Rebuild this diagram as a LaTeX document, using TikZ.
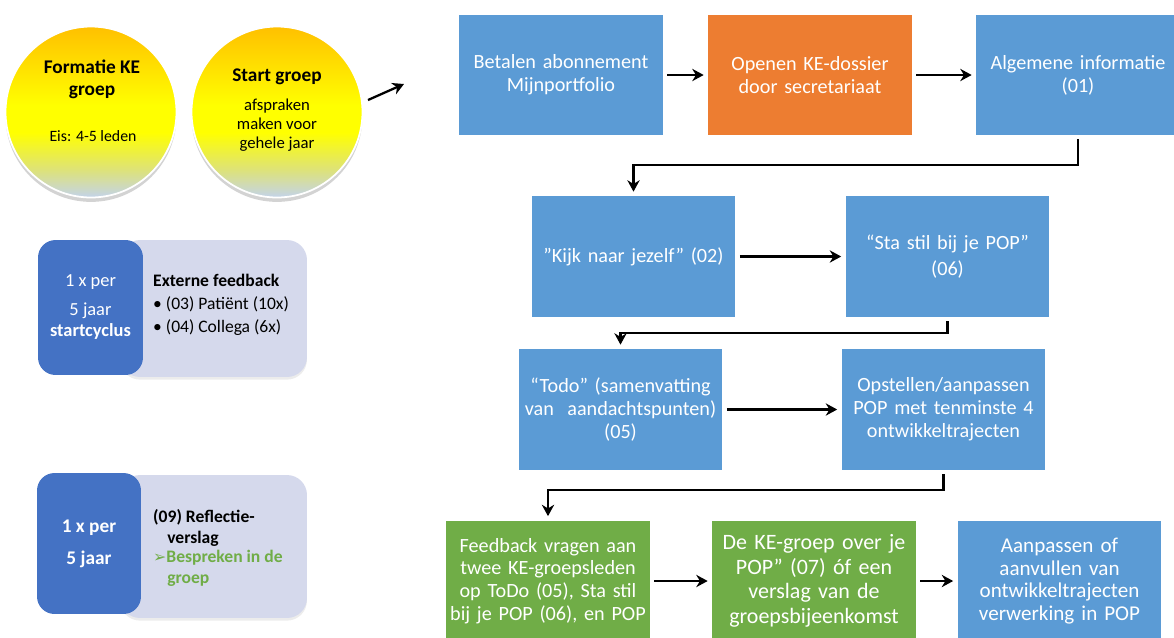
\documentclass[tikz,border=0pt]{standalone}
\usepackage{fontspec}
\setmainfont{Carlito}
\newfontfamily\symbfont{DejaVu Sans}
\usepackage{tikz}
\usetikzlibrary{arrows.meta,shadows}
\definecolor{blauw}{HTML}{5B9BD5}
\definecolor{oranje}{HTML}{ED7D31}
\definecolor{groen}{HTML}{70AD47}
\definecolor{donkerblauw}{HTML}{4472C4}
\definecolor{lila}{HTML}{D5D9EC}
\definecolor{goud}{HTML}{FFC000}
\definecolor{geel}{HTML}{FFFF00}
\definecolor{geelgrijs}{HTML}{DDE27A}
\definecolor{grijsblauw}{HTML}{C3D3EA}
\pgfdeclareverticalshading{bolkleur}{100bp}{color(0bp)=(grijsblauw); color(25bp)=(grijsblauw); color(33bp)=(geelgrijs); color(44bp)=(geel); color(52bp)=(geel); color(75bp)=(goud); color(100bp)=(goud)}
\tikzset{
    stap/.style={rectangle, fill=blauw, text=white, inner sep=0pt,
        minimum width=4.08cm, minimum height=2.4cm, text width=4cm, align=center,
        font=\fontsize{11.5}{13}\selectfont},
    pijl/.style={-{Stealth[length=6.5pt,width=7pt]}, line width=1.3pt,
        shorten >=0.08cm, shorten <=0.08cm},
    bol/.style={circle, draw=white, line width=1pt, minimum size=3.42cm,
        shading=bolkleur,
        drop shadow={shadow xshift=0pt, shadow yshift=-2.5pt, opacity=0.35}},
    donker/.style={rectangle, rounded corners=0.35cm, fill=donkerblauw,
        minimum width=2.1cm, inner sep=0pt},
    licht/.style={rectangle, rounded corners=0.4cm, fill=lila,
        minimum width=3.74cm, inner sep=0pt,
        drop shadow={shadow xshift=0pt, shadow yshift=-1.5pt, opacity=0.15}}
}

\begin{document}
\begin{tikzpicture}[x=0.02cm, y=-0.02cm]
                \useasboundingbox (0,0) rectangle (1174,637);
                \clip (0,0) rectangle (1174,637);

                \node[bol] (formatie) at (91,112) {};
                \node[align=center, font=\fontsize{11}{12.5}\selectfont\bfseries] (formatietekst) at (92,79) {Formatie KE\\groep};
                \node[font=\fontsize{9}{11}\selectfont] (eis) at (93,136) {Eis: 4-5 leden};
                \node[bol] (start) at (277,112) {};
                \node[font=\fontsize{11}{12.5}\selectfont\bfseries] (starttekst) at (277,77) {Start groep};
                \node[align=center, font=\fontsize{9.5}{10.8}\selectfont] (afspraken) at (277,125) {afspraken\\maken voor\\gehele jaar};
                \coordinate (pijlbegin) at (368,100);
                \coordinate (pijleind) at (404,84);
                \draw[pijl, shorten <=0pt, shorten >=0pt] (pijlbegin) -- (pijleind);

                \node[licht, minimum height=2.74cm] (feedbackvak) at (213.5,308.5) {};
                \node[donker, minimum height=2.7cm] (cyclus) at (90.5,307.5) {};
                \node[align=center, text=white, font=\fontsize{10.5}{11.5}\selectfont] (cyclustekst) at (90.5,307) {1 x per\\[5pt]5 jaar\\\textbf{startcyclus}};
                \node[anchor=west, align=left, font=\fontsize{10}{13}\selectfont] (extern) at (147,305) {\textbf{Externe feedback}\\\textbullet\ (03) Patiënt (10x)\\\textbullet\ (04) Collega (6x)};

                \node[licht, minimum height=2.86cm] (reflectievak) at (213.5,546.5) {};
                \node[donker, minimum height=2.82cm, minimum width=2.08cm] (vijfjaar) at (89,543.5) {};
                \node[align=center, text=white, font=\fontsize{11}{18}\selectfont\bfseries] (vijfjaartekst) at (89,544) {1 x per\\5 jaar};
                \node[anchor=west, align=left, font=\fontsize{10}{12}\selectfont\bfseries] (reflectie) at (147,548) {(09) Reflectie-\\\hspace*{8pt}verslag\\[-1pt]\textcolor{groen}{{\symbfont\fontsize{9}{10}\selectfont ➢}Bespreken in de}\\\hspace*{8pt}\textcolor{groen}{groep}};

                \node[stap] (betalen) at (561,75) {Betalen abonnement\\Mijnportfolio};
                \node[stap, fill=oranje] (openen) at (810,75) {Openen KE-dossier\\door secretariaat};
                \node[stap] (algemeen) at (1078,75) {Algemene informatie\\(01)};
                \node[stap, minimum height=2.42cm] (kijk) at (633.5,256.5) {”Kijk naar jezelf” (02)};
                \node[stap, minimum height=2.42cm, font=\fontsize{11.5}{14.5}\selectfont] (stastil) at (947.5,256.5) {“Sta stil bij je POP”\\(06)};
                \node[stap, minimum height=2.42cm] (todo) at (620.5,409.5) {“Todo” (samenvatting\\van\ \ aandachtspunten)\\(05)};
                \node[stap, minimum height=2.42cm] (opstellen) at (943.5,409.5) {Opstellen/aanpassen\\POP met tenminste 4\\ontwikkeltrajecten};
                \node[stap, fill=groen, minimum height=2.42cm] (feedback) at (548,581) {Feedback vragen aan\\twee KE-groepsleden\\op ToDo (05), Sta stil\\bij je POP (06), en POP};
                \node[stap, fill=groen, minimum height=2.42cm, font=\fontsize{12.5}{14}\selectfont] (kegroep) at (814,581) {De KE-groep over je\\POP” (07) óf een\\verslag van de\\groepsbijeenkomst};
                \node[stap, minimum height=2.42cm, font=\fontsize{12}{13}\selectfont] (aanpassen) at (1059.5,581) {Aanpassen of\\aanvullen van\\ontwikkeltrajecten\\verwerking in POP};

                \draw[pijl] (betalen) -- (openen);
                \draw[pijl] (openen) -- (algemeen);
                \draw[pijl] (algemeen.south) -- ++(0,30) -| (kijk.north);
                \draw[pijl] (kijk) -- (stastil);
                \draw[pijl] (stastil.south) -- ++(0,16) -| (todo.north);
                \draw[pijl] (todo) -- (opstellen);
                \draw[pijl] (opstellen.south) -- ++(0,20) -| (feedback.north);
                \draw[pijl] (feedback) -- (kegroep);
                \draw[pijl] (kegroep) -- (aanpassen);
            \end{tikzpicture}
\end{document}
